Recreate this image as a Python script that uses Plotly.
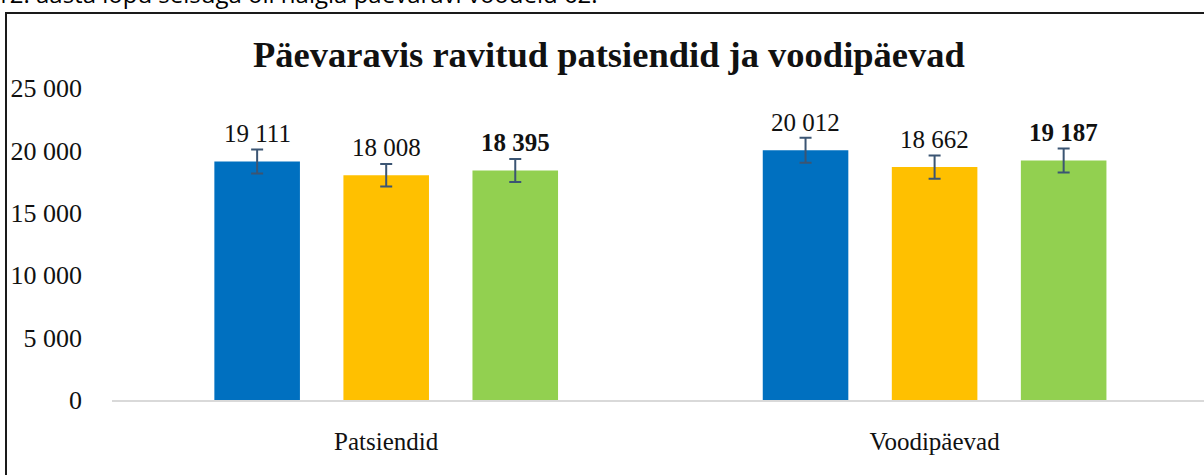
import plotly.graph_objects as go

# ---- data ----
categories = ["Patsiendid", "Voodipäevad"]
series_names = ["Aasta 1", "Aasta 2", "Aasta 3"]
series_a = [19111, 20012]
series_b = [18008, 18662]
series_c = [18395, 19187]
series_values = [series_a, series_b, series_c]
series_colors = ["#0070C0", "#FFC000", "#92D050"]
label_bold = [False, False, True]
error_percent = 5
y_ticks = [0, 5000, 10000, 15000, 20000, 25000]

title_text = "Päevaravis ravitud patsiendid ja voodipäevad"
caption_text = "12. aasta lõpu seisuga oli haigla päevaravi voodeid 62."

# ---- layout geometry ----
W, H = 1204, 475
L, R, T, B = 112, 0, 88, 75
PW, PH = W - L - R, H - T - B
BARGAP = 0.294
BARGROUPGAP = 0.337
CAT_PX = 548.4
x_range = [-0.5, -0.5 + PW / CAT_PX]

def px_x(px):
    return (px - L) / PW

def px_y(py):
    return (H - B - py) / PH

serif = "Liberation Serif"
text_col = "#111111"

fig = go.Figure()
for name, vals, col in zip(series_names, series_values, series_colors):
    fig.add_trace(go.Bar(
        x=categories, y=vals, name=name, marker=dict(color=col, line=dict(width=0)),
        error_y=dict(type="percent", value=error_percent, color="#3B5573",
                     thickness=2, width=6),
        showlegend=False,
    ))

# data labels placed above each bar (category index + group offset)
slot = (1 - BARGAP) / len(series_values)
annotations = []
for k, (vals, bold) in enumerate(zip(series_values, label_bold)):
    for i, v in enumerate(vals):
        s = f"{v:,}".replace(",", " ")
        if bold:
            s = f"<b>{s}</b>"
        annotations.append(dict(
            x=i + (k - (len(series_values) - 1) / 2) * slot, y=v,
            xref="x", yref="y", text=s, showarrow=False,
            yanchor="middle", yshift=28,
            font=dict(family=serif, size=25, color=text_col),
        ))

annotations.append(dict(
    x=px_x(609), y=px_y(55), xref="paper", yref="paper",
    text=f"<b>{title_text}</b>", showarrow=False, xanchor="center", yanchor="middle",
    font=dict(family=serif, size=36.5, color=text_col),
))
annotations.append(dict(
    x=px_x(-6), y=px_y(12), xref="paper", yref="paper",
    text=caption_text, showarrow=False, xanchor="left", yanchor="bottom",
    font=dict(family="Open Sans", size=24, color="#000000"),
))

shapes = [dict(
    type="rect", xref="paper", yref="paper",
    x0=px_x(6), x1=px_x(W + 20), y0=px_y(H + 20), y1=px_y(13),
    line=dict(color="#1a1a1a", width=2), fillcolor="rgba(0,0,0,0)", layer="above",
)]

fig.update_layout(
    width=W, height=H,
    margin=dict(l=L, r=R, t=T, b=B, autoexpand=False),
    barmode="group", bargap=BARGAP, bargroupgap=BARGROUPGAP,
    plot_bgcolor="white", paper_bgcolor="white",
    separators=". ",
    annotations=annotations, shapes=shapes,
    xaxis=dict(range=x_range, showgrid=False, zeroline=False, showline=True,
               linecolor="#D9D9D9", linewidth=2, ticks="", ticklabelstandoff=18,
               tickfont=dict(family=serif, size=25, color=text_col)),
    yaxis=dict(range=[0, 25000], tickvals=y_ticks, tickformat=",d", showgrid=False,
               zeroline=False, showline=False, ticks="", ticklabelstandoff=29,
               tickfont=dict(family=serif, size=26, color=text_col)),
)

fig.write_html(
    "out.html",
    config={"displayModeBar": False},
    post_script="document.body.style.margin='0';document.body.style.overflow='hidden';",
)
